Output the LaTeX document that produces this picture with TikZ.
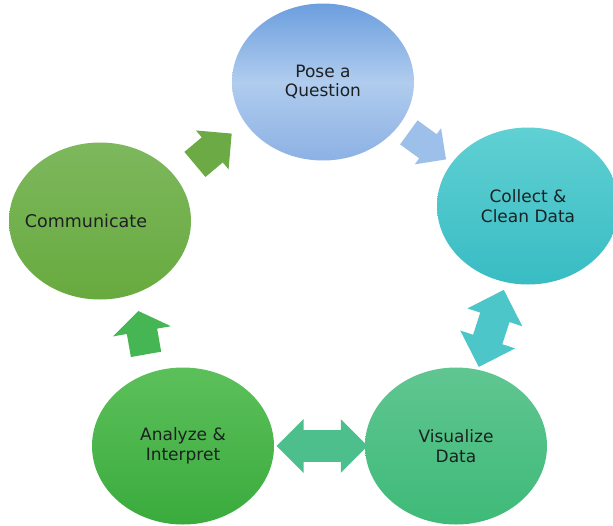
\documentclass[tikz,border=0pt]{standalone}
\usepackage{fontspec}
\setmainfont{DejaVu Sans}
\usetikzlibrary{shapes.geometric,shapes.arrows,calc}

\definecolor{labelgray}{RGB}{28,32,34}
\definecolor{poseTop}{RGB}{108,158,222}
\definecolor{poseMid}{RGB}{176,204,238}
\definecolor{poseBot}{RGB}{140,177,228}
\definecolor{collTop}{RGB}{96,208,211}
\definecolor{collBot}{RGB}{56,188,195}
\definecolor{visTop}{RGB}{96,198,145}
\definecolor{visBot}{RGB}{62,186,120}
\definecolor{anaTop}{RGB}{92,192,90}
\definecolor{anaBot}{RGB}{58,171,61}
\definecolor{comTop}{RGB}{125,184,93}
\definecolor{comBot}{RGB}{104,170,63}
\definecolor{arrBlue}{RGB}{156,192,233}
\definecolor{arrTeal}{RGB}{77,198,202}
\definecolor{arrMint}{RGB}{77,191,140}
\definecolor{arrGreen}{RGB}{70,181,83}
\definecolor{arrOlive}{RGB}{108,170,70}

\tikzset{every picture/.style={line width=0.75pt},
  stage/.style={ellipse, draw=none, inner sep=0pt, minimum width=182pt, minimum height=157pt,
    align=center, text=labelgray, font=\fontsize{17}{19.5}\selectfont},
  blockarrow/.style={single arrow, draw=none, inner xsep=0pt},
  twinarrow/.style={double arrow, draw=none, inner xsep=0pt}}

\begin{document}
\begin{tikzpicture}[x=1pt,y=-1pt]
\useasboundingbox (0,0) rectangle (613,525);

%Shape: Ellipse [Pose a Question]
\node [stage, top color=poseTop, bottom color=poseBot, middle color=poseMid] (pose) at (323,82) {Pose a\\Question};
%Shape: Ellipse [Collect & Clean Data]
\node [stage, top color=collTop, bottom color=collBot] (collect) at (528,206) {Collect \&\\Clean Data};
%Shape: Ellipse [Visualize Data]
\node [stage, top color=visTop, bottom color=visBot] (visual) at (456,446) {Visualize\\Data};
%Shape: Ellipse [Analyze & Interpret]
\node [stage, top color=anaTop, bottom color=anaBot] (analyze) at (183,446) {Analyze \&\\Interpret};
%Shape: Ellipse [Communicate]
\node [stage, top color=comTop, bottom color=comBot] (comm) at (100,221) {};
% Text Node
\node [text=labelgray, font=\fontsize{17.5}{20}\selectfont, inner sep=0pt] (commtext) at ([xshift=-14pt]comm.center) {Communicate};

%Block Arrow: pose -> collect
\node [blockarrow, fill=arrBlue, rotate=-36, inner ysep=14.5pt, minimum height=46pt, minimum width=44pt, single arrow head extend=7.5pt]
  (posecoll) at ($(pose)!0.48!(collect)$) {};
%Block Arrow: collect <-> visualize
\node [twinarrow, fill=arrTeal, rotate=72, inner ysep=15pt, minimum height=81pt, minimum width=57pt, double arrow head extend=13.5pt]
  (collvis) at ($(collect)!0.51!(visual)$) {};
%Block Arrow: visualize <-> analyze
\node [twinarrow, fill=arrMint, inner ysep=15.5pt, minimum height=91pt, minimum width=53pt, double arrow head extend=11pt]
  (visana) at ($(visual)!0.49!(analyze)$) {};
%Block Arrow: analyze -> communicate
\node [blockarrow, fill=arrGreen, rotate=100, inner ysep=15pt, minimum height=44pt, minimum width=58pt, single arrow head extend=14pt, single arrow tip angle=110]
  (anacomm) at ($(analyze)!0.48!(comm)$) {};
%Block Arrow: communicate -> pose
\node [blockarrow, fill=arrOlive, rotate=40, inner ysep=16pt, minimum height=48pt, minimum width=50pt, single arrow head extend=9pt]
  (commpose) at ($(comm)!0.48!(pose)$) {};

\end{tikzpicture}
\end{document}
